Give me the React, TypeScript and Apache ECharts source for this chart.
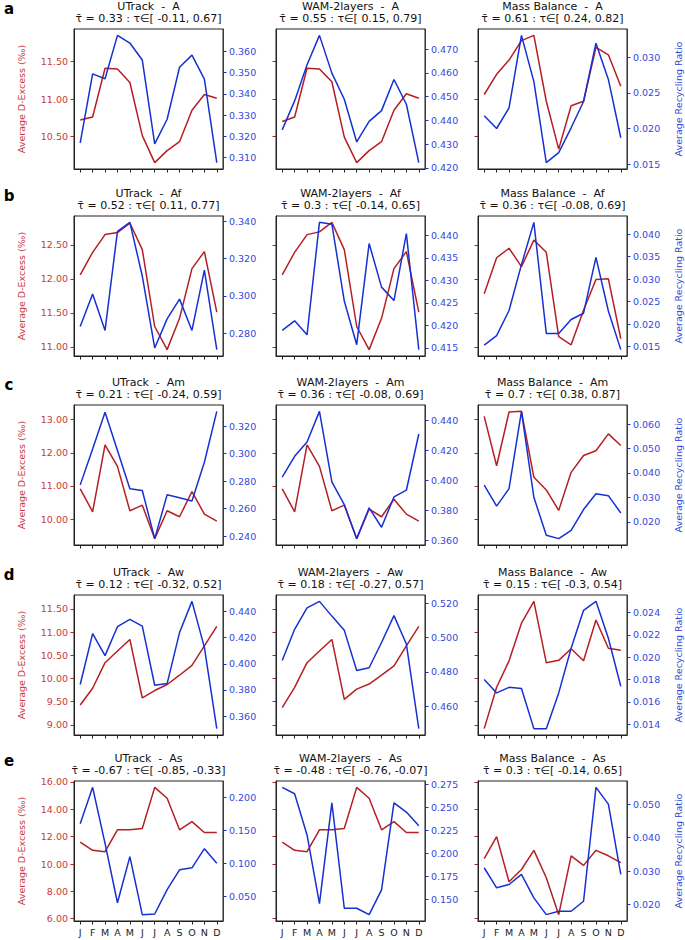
import React, { useEffect, useRef } from "react";
import * as echarts from "echarts";

const months = ["J", "F", "M", "A", "M", "J", "J", "A", "S", "O", "N", "D"];
const models = ["UTrack", "WAM-2layers", "Mass Balance"];
const regions = ["A", "Af", "Am", "Aw", "As"];
const panelLetters = ["a", "b", "c", "d", "e"];

// Average D-Excess (‰) per region, per model
const dexA_UT = [10.72, 10.76, 11.41, 11.4, 11.22, 10.51, 10.15, 10.31, 10.43, 10.85, 11.06, 11.01];
const dexA_WAM = [10.7, 10.76, 11.41, 11.4, 11.23, 10.49, 10.15, 10.31, 10.43, 10.85, 11.07, 11.01];
const dexA_MB = [11.06, 11.33, 11.52, 11.78, 11.85, 10.97, 10.33, 10.91, 10.97, 11.69, 11.59, 11.17];
const dexAf_UT = [12.06, 12.39, 12.65, 12.68, 12.82, 12.43, 11.3, 10.96, 11.42, 12.15, 12.4, 11.51];
const dexAf_WAM = [12.06, 12.39, 12.65, 12.69, 12.83, 12.43, 11.3, 10.96, 11.42, 12.15, 12.4, 11.51];
const dexAf_MB = [11.78, 12.31, 12.45, 12.18, 12.57, 12.39, 11.15, 11.03, 11.54, 11.99, 12.0, 11.12];
const dexAm_UT = [10.91, 10.22, 12.24, 11.59, 10.25, 10.42, 9.41, 10.25, 10.07, 10.83, 10.15, 9.94];
const dexAm_WAM = [10.91, 10.22, 12.24, 11.59, 10.25, 10.42, 9.41, 10.3, 10.07, 10.6, 10.15, 9.94];
const dexAm_MB = [13.1, 11.61, 13.23, 13.25, 11.26, 10.88, 10.26, 11.41, 11.92, 12.06, 12.57, 12.22];
const dexAw_UT = [9.43, 9.79, 10.34, 10.59, 10.84, 9.58, 9.74, 9.87, 10.07, 10.28, 10.7, 11.12];
const dexAw_WAM = [9.37, 9.81, 10.34, 10.59, 10.84, 9.55, 9.77, 9.88, 10.07, 10.27, 10.7, 11.12];
const dexAw_MB = [8.92, 9.81, 10.38, 11.19, 11.66, 10.34, 10.39, 10.64, 10.38, 11.26, 10.65, 10.61];
const dexAs_UT = [11.6, 11.0, 10.9, 12.5, 12.5, 12.6, 15.6, 14.8, 12.5, 13.1, 12.3, 12.3];
const dexAs_WAM = [11.6, 11.0, 10.9, 12.5, 12.5, 12.6, 15.6, 14.8, 12.5, 13.1, 12.3, 12.3];
const dexAs_MB = [10.4, 12.0, 8.7, 9.6, 11.0, 9.0, 6.3, 10.6, 9.9, 11.0, 10.6, 10.1];

// Average Recycling Ratio per region, per model
const rrA_UT = [0.317, 0.3494, 0.3471, 0.3675, 0.3639, 0.3559, 0.3165, 0.3281, 0.3525, 0.3582, 0.3469, 0.3077];
const rrA_WAM = [0.436, 0.4482, 0.4634, 0.4758, 0.4599, 0.4489, 0.4309, 0.4396, 0.4441, 0.4572, 0.4468, 0.4222];
const rrA_MB = [0.0218, 0.02, 0.0229, 0.0331, 0.0266, 0.0152, 0.0166, 0.0201, 0.0238, 0.032, 0.0269, 0.0187];
const rrAf_UT = [0.2835, 0.3009, 0.2814, 0.3346, 0.3394, 0.3106, 0.272, 0.2876, 0.2982, 0.2814, 0.3138, 0.2711];
const rrAf_WAM = [0.4189, 0.421, 0.4179, 0.4429, 0.4425, 0.4254, 0.4157, 0.4382, 0.4285, 0.4255, 0.4404, 0.4146];
const rrAf_MB = [0.0153, 0.0174, 0.023, 0.0332, 0.0426, 0.0179, 0.0179, 0.021, 0.0224, 0.0348, 0.0229, 0.0143];
const rrAm_UT = [0.2773, 0.3035, 0.3302, 0.3023, 0.2744, 0.2732, 0.2381, 0.2701, 0.2679, 0.2655, 0.2938, 0.3309];
const rrAm_WAM = [0.4024, 0.4162, 0.4258, 0.4462, 0.3991, 0.384, 0.3613, 0.3818, 0.3689, 0.3891, 0.3936, 0.4311];
const rrAm_MB = [0.035, 0.0264, 0.0336, 0.0652, 0.03, 0.0145, 0.0131, 0.0165, 0.025, 0.0315, 0.0307, 0.0236];
const rrAw_UT = [0.3842, 0.4231, 0.4063, 0.4284, 0.434, 0.4289, 0.3836, 0.3849, 0.4239, 0.4478, 0.4126, 0.3504];
const rrAw_WAM = [0.4866, 0.5048, 0.5173, 0.5211, 0.5125, 0.5042, 0.4808, 0.4824, 0.4971, 0.5128, 0.4962, 0.4469];
const rrAw_MB = [0.018, 0.0168, 0.0173, 0.0172, 0.0136, 0.0136, 0.0168, 0.0208, 0.0242, 0.025, 0.0217, 0.0174];
const rrAs_UT = [0.16, 0.215, 0.13, 0.04, 0.11, 0.022, 0.023, 0.06, 0.09, 0.093, 0.122, 0.1];
const rrAs_WAM = [0.272, 0.265, 0.22, 0.145, 0.255, 0.14, 0.14, 0.133, 0.16, 0.255, 0.245, 0.23];
const rrAs_MB = [0.031, 0.025, 0.026, 0.029, 0.022, 0.017, 0.018, 0.018, 0.021, 0.055, 0.05, 0.029];

// Kendall tau: mean, lower, upper (as printed)
const tauStats = [
  [["0.33", "-0.11", "0.67"], ["0.55", "0.15", "0.79"], ["0.61", "0.24", "0.82"]],
  [["0.52", "0.11", "0.77"], ["0.3", "-0.14", "0.65"], ["0.36", "-0.08", "0.69"]],
  [["0.21", "-0.24", "0.59"], ["0.36", "-0.08", "0.69"], ["0.7", "0.38", "0.87"]],
  [["0.12", "-0.32", "0.52"], ["0.18", "-0.27", "0.57"], ["0.15", "-0.3", "0.54"]],
  [["-0.67", "-0.85", "-0.33"], ["-0.48", "-0.76", "-0.07"], ["0.3", "-0.14", "0.65"]],
];

// Tick values
const leftTicks = [
  [10.5, 11.0, 11.5],
  [11.0, 11.5, 12.0, 12.5],
  [10, 11, 12, 13],
  [9.0, 9.5, 10.0, 10.5, 11.0, 11.5],
  [6, 8, 10, 12, 14, 16],
];
const rightTicks = [
  [[0.31, 0.32, 0.33, 0.34, 0.35, 0.36], [0.42, 0.43, 0.44, 0.45, 0.46, 0.47], [0.015, 0.02, 0.025, 0.03]],
  [[0.28, 0.3, 0.32, 0.34], [0.415, 0.42, 0.425, 0.43, 0.435, 0.44], [0.015, 0.02, 0.025, 0.03, 0.035, 0.04]],
  [[0.24, 0.26, 0.28, 0.3, 0.32], [0.36, 0.38, 0.4, 0.42, 0.44], [0.02, 0.03, 0.04, 0.05, 0.06]],
  [[0.36, 0.38, 0.4, 0.42, 0.44], [0.46, 0.48, 0.5, 0.52], [0.014, 0.016, 0.018, 0.02, 0.022, 0.024]],
  [[0.05, 0.1, 0.15, 0.2], [0.15, 0.175, 0.2, 0.225, 0.25, 0.275], [0.02, 0.03, 0.04, 0.05]],
];

const dex = [
  [dexA_UT, dexA_WAM, dexA_MB],
  [dexAf_UT, dexAf_WAM, dexAf_MB],
  [dexAm_UT, dexAm_WAM, dexAm_MB],
  [dexAw_UT, dexAw_WAM, dexAw_MB],
  [dexAs_UT, dexAs_WAM, dexAs_MB],
];
const rr = [
  [rrA_UT, rrA_WAM, rrA_MB],
  [rrAf_UT, rrAf_WAM, rrAf_MB],
  [rrAm_UT, rrAm_WAM, rrAm_MB],
  [rrAw_UT, rrAw_WAM, rrAw_MB],
  [rrAs_UT, rrAs_WAM, rrAs_MB],
];

const RED_LINE = "#b51f24";
const RED_TEXT = "#c83a3a";
const BLUE_LINE = "#1730d2";
const BLUE_TEXT = "#3347dc";
const DARK = "#222222";
const FONT = "DejaVu Sans";

const colLeft = [74, 276, 478];
const rowTop = [29, 216, 405, 595, 781];
const W = 149;
const H = 140;

function padRange(arrs: number[][]): [number, number] {
  let lo = Infinity;
  let hi = -Infinity;
  arrs.forEach((a) => a.forEach((v) => { lo = Math.min(lo, v); hi = Math.max(hi, v); }));
  const p = (hi - lo) * 0.05;
  return [lo - p, hi + p];
}

function buildOption() {
  const grid: any[] = [];
  const xAxis: any[] = [];
  const yAxis: any[] = [];
  const series: any[] = [];
  const graphic: any[] = [];

  for (let r = 0; r < 5; r++) {
    const [lmin, lmax] = padRange(dex[r]);
    graphic.push({
      type: "text",
      x: 9,
      y: rowTop[r] - 20,
      style: { text: panelLetters[r], font: `bold 15px '${FONT}'`, fill: "#000", align: "center", verticalAlign: "middle" },
    });
    for (let c = 0; c < 3; c++) {
      const i = r * 3 + c;
      const [rmin, rmax] = padRange([rr[r][c]]);
      grid.push({ left: colLeft[c], top: rowTop[r], width: W, height: H, show: true, borderColor: DARK, borderWidth: 1, containLabel: false });
      xAxis.push({
        type: "category",
        gridIndex: i,
        data: months,
        boundaryGap: true,
        axisLine: { show: true, lineStyle: { color: DARK, width: 1 } },
        axisTick: { show: true, alignWithLabel: true, length: 3.5, lineStyle: { color: DARK } },
        axisLabel: { show: r === 4, interval: 0, color: DARK, fontSize: 9.5, fontFamily: FONT, margin: 6 },
        splitLine: { show: false },
      });
      yAxis.push({
        type: "value",
        gridIndex: i,
        position: "left",
        min: lmin,
        max: lmax,
        axisLine: { show: true, lineStyle: { color: DARK, width: 1 } },
        axisTick: { show: true, length: 3.5, lineStyle: { color: RED_LINE }, customValues: leftTicks[r] },
        axisLabel: {
          show: c === 0,
          customValues: leftTicks[r],
          formatter: (v: number) => v.toFixed(2),
          color: RED_TEXT,
          fontSize: 9.5,
          fontFamily: FONT,
          margin: 6,
        },
        splitLine: { show: false },
        name: c === 0 ? "Average D-Excess (‰)" : "",
        nameLocation: "middle",
        nameGap: 48,
        nameTextStyle: { color: RED_TEXT, fontSize: 9.5, fontFamily: FONT },
      });
      yAxis.push({
        type: "value",
        gridIndex: i,
        position: "right",
        min: rmin,
        max: rmax,
        axisLine: { show: true, lineStyle: { color: BLUE_LINE, width: 1 } },
        axisTick: { show: true, length: 3.5, lineStyle: { color: BLUE_LINE }, customValues: rightTicks[r][c] },
        axisLabel: {
          show: true,
          customValues: rightTicks[r][c],
          formatter: (v: number) => v.toFixed(3),
          color: BLUE_TEXT,
          fontSize: 9.5,
          fontFamily: FONT,
          margin: 6,
        },
        splitLine: { show: false },
        name: c === 2 ? "Average Recycling Ratio" : "",
        nameLocation: "middle",
        nameGap: 46,
        nameTextStyle: { color: BLUE_TEXT, fontSize: 9.5, fontFamily: FONT },
      });
      series.push({
        type: "line",
        xAxisIndex: i,
        yAxisIndex: 2 * i,
        data: dex[r][c],
        showSymbol: false,
        symbol: "none",
        lineStyle: { color: RED_LINE, width: 1.5 },
        itemStyle: { color: RED_LINE },
        z: 2,
      });
      series.push({
        type: "line",
        xAxisIndex: i,
        yAxisIndex: 2 * i + 1,
        data: rr[r][c],
        showSymbol: false,
        symbol: "none",
        lineStyle: { color: BLUE_LINE, width: 1.5 },
        itemStyle: { color: BLUE_LINE },
        z: 3,
      });
      const cx = colLeft[c] + W / 2;
      const ts = tauStats[r][c];
      graphic.push({
        type: "text",
        x: cx,
        y: rowTop[r] - 23,
        style: { text: `${models[c]}  -  ${regions[r]}`, font: `11px '${FONT}'`, fill: "#111", align: "center", verticalAlign: "middle" },
      });
      graphic.push({
        type: "text",
        x: cx,
        y: rowTop[r] - 11,
        style: { text: `τ̄ = ${ts[0]} : τ∈[ ${ts[1]}, ${ts[2]}]`, font: `11px '${FONT}'`, fill: "#111", align: "center", verticalAlign: "middle" },
      });
    }
  }

  return {
    animation: false,
    backgroundColor: "#ffffff",
    textStyle: { fontFamily: FONT },
    grid,
    xAxis,
    yAxis,
    series,
    graphic,
  };
}

export default function App() {
  const ref = useRef<HTMLDivElement>(null);
  useEffect(() => {
    if (!ref.current) return;
    const chart = echarts.init(ref.current, undefined, { renderer: "svg" });
    chart.setOption(buildOption());
    return () => chart.dispose();
  }, []);
  return <div ref={ref} style={{ position: "absolute", left: 0, top: 0, width: 685, height: 940 }} />;
}
